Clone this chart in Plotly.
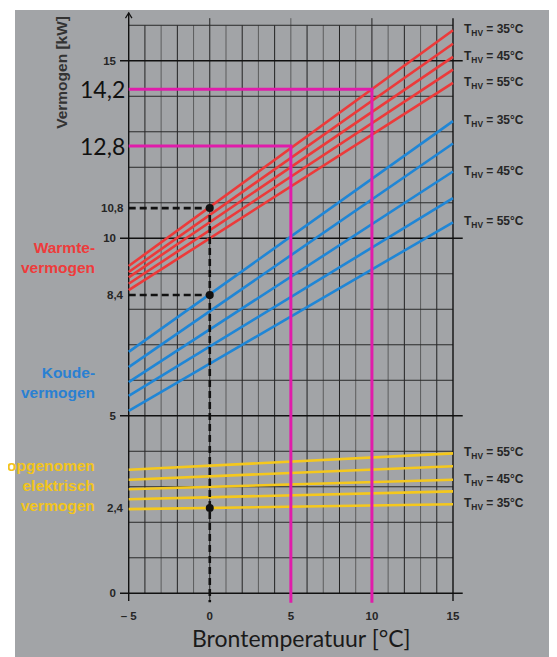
import plotly.graph_objects as go

# ---------------- data ----------------
x_ends = [-5, 15]                                   # Brontemperatuur [°C]
heat_left = [9.22, 9.05, 8.90, 8.72, 8.54]          # Warmtevermogen at -5 °C
heat_right = [15.86, 15.48, 15.11, 14.75, 14.38]    # Warmtevermogen at 15 °C
cold_left = [6.80, 6.37, 5.95, 5.56, 5.14]          # Koudevermogen at -5 °C
cold_right = [13.30, 12.67, 11.88, 11.13, 10.45]    # Koudevermogen at 15 °C
elec_left = [3.48, 3.20, 2.93, 2.65, 2.37]          # Opgenomen elektrisch vermogen at -5 °C
elec_right = [3.94, 3.58, 3.20, 2.87, 2.51]         # at 15 °C

heat_labels = ["35", "", "45", "", "55"]
cold_labels = ["35", "", "45", "", "55"]
elec_labels = ["55", "", "45", "", "35"]

x_ticks = [-5, 0, 5, 10, 15]
x_ticktext = ["– 5", "0", "5", "10", "15"]
y_ticks = [0, 5, 10, 15]
y_ticktext = ["0", "5", "10", "15"]

# reading example at 0 °C (black dashed)
read0_x = 0
read0_vals = [10.85, 8.4, 2.4]
read0_text = ["10,8", "8,4", "2,4"]

# reading examples at 5 and 10 °C (magenta)
readm_x = [5, 10]
readm_vals = [12.6, 14.2]
readm_text = ["12,8", "14,2"]

RED = "#ec3a3a"
BLUE = "#1f86d6"
YELLOW = "#f5c81c"
MAGENTA = "#e01caa"
BG = "#a2a4a7"
DARK = "#262626"

# page offset (browser body margin)
OFF = 8
W, H = 557 - OFF, 657 - OFF

X0, X1 = -5.537, 15.617
Y0, Y1 = -0.33, 16.43
# reference-pixel plot box: x 120..463, y 10..605
ML = 120 - OFF
MR = W - (463 - OFF)
MT = 10 - OFF
MB = H - (605 - OFF)
PW, PH = W - ML - MR, H - MT - MB

def px_x(p):   # reference pixel x -> paper
    return (p - OFF - ML) / PW

def px_y(p):   # reference pixel y -> paper
    return (H - MB - (p - OFF)) / PH

fig = go.Figure()

# ---------------- grid (shapes) ----------------
shapes = []
for gx in range(-4, 15):
    major = gx % 2 == 0
    top = 16.2 if gx in (0, 5, 10) else 16
    bot = -0.22 if gx in (0, 5, 10) else 0
    shapes.append(dict(type="line", xref="x", yref="y", x0=gx, x1=gx, y0=bot, y1=top,
                       line=dict(color="#222222" if major else "#4a4a4a",
                                 width=1 if major else 0.8), layer="below"))
for gy in range(1, 17):
    if gy in (5, 10, 15):
        continue
    shapes.append(dict(type="line", xref="x", yref="y", x0=-5, x1=15, y0=gy, y1=gy,
                       line=dict(color="#2a2a2a", width=1), layer="below"))
for gy in (0, 5, 10, 15):
    shapes.append(dict(type="line", xref="x", yref="y", x0=-5.55, x1=15.6, y0=gy, y1=gy,
                       line=dict(color="#111111", width=1.4), layer="below"))
# y axis with arrow, right border
shapes.append(dict(type="line", xref="x", yref="y", x0=-5, x1=-5, y0=-0.22, y1=16.35,
                   line=dict(color="#111111", width=1.4), layer="below"))
shapes.append(dict(type="path", xref="x", yref="y",
                   path="M -5.2,16.2 L -5,16.35 L -4.8,16.2",
                   line=dict(color="#111111", width=1.2), layer="below"))
shapes.append(dict(type="line", xref="x", yref="y", x0=15, x1=15, y0=-0.22, y1=16.2,
                   line=dict(color="#111111", width=1.4), layer="below"))

# white strips outside the gray picture
shapes.append(dict(type="rect", xref="paper", yref="paper", x0=px_x(OFF), x1=px_x(15),
                   y0=px_y(657), y1=px_y(OFF), fillcolor="white", line=dict(width=0),
                   layer="below"))
shapes.append(dict(type="rect", xref="paper", yref="paper", x0=px_x(OFF), x1=px_x(557),
                   y0=px_y(10), y1=px_y(OFF), fillcolor="white", line=dict(width=0),
                   layer="below"))

# ---------------- curves ----------------
def add_group(lefts, rights, color, name):
    for a, b in zip(lefts, rights):
        fig.add_trace(go.Scatter(x=x_ends, y=[a, b], mode="lines",
                                 line=dict(color=color, width=2.6),
                                 name=name, showlegend=False, hoverinfo="skip"))

add_group(heat_left, heat_right, RED, "Warmtevermogen")
add_group(cold_left, cold_right, BLUE, "Koudevermogen")
add_group(elec_left, elec_right, YELLOW, "Opgenomen elektrisch vermogen")

# magenta reading lines
for xv, yv in zip(readm_x, readm_vals):
    fig.add_trace(go.Scatter(x=[-5, xv, xv], y=[yv, yv, -0.27], mode="lines",
                             line=dict(color=MAGENTA, width=3), showlegend=False,
                             hoverinfo="skip"))

# black dashed reading lines
fig.add_trace(go.Scatter(x=[-5, read0_x, read0_x], y=[read0_vals[0], read0_vals[0], -0.25],
                         mode="lines", line=dict(color="#111111", width=2.6, dash="7px,4px"),
                         showlegend=False, hoverinfo="skip"))
fig.add_trace(go.Scatter(x=[-5, read0_x], y=[read0_vals[1], read0_vals[1]],
                         mode="lines", line=dict(color="#111111", width=2.6, dash="7px,4px"),
                         showlegend=False, hoverinfo="skip"))
fig.add_trace(go.Scatter(x=[read0_x] * len(read0_vals), y=read0_vals, mode="markers",
                         marker=dict(color="#111111", size=8), showlegend=False,
                         hoverinfo="skip"))

# ---------------- annotations ----------------
ann = []
SMALL = dict(family="Liberation Sans, Arial", size=11.5, color=DARK, weight="bold")
THVF = dict(family="Liberation Sans, Arial", size=12, color=DARK, weight="bold")

def thv(lbls, rights):
    for l, r in zip(lbls, rights):
        if l:
            ann.append(dict(x=15.55, y=r, xref="x", yref="y", xanchor="left",
                            yanchor="middle", showarrow=False,
                            text=f"T<sub>HV</sub> = {l}°C", font=THVF))

thv(heat_labels, heat_right)
thv(cold_labels, cold_right)
thv(elec_labels, elec_right)

for v, t in zip(read0_vals, read0_text):
    ann.append(dict(x=-5, y=v, xref="x", yref="y", xanchor="right", yanchor="middle",
                    xshift=-3, showarrow=False, text=t, font=SMALL))
for v, t in zip(readm_vals, readm_text):
    ann.append(dict(x=-5, y=v, xref="x", yref="y", xanchor="right", yanchor="middle",
                    xshift=-2, showarrow=False, text=t,
                    font=dict(family="Lato, Open Sans, sans-serif", size=23, color="#111111")))

LBL = dict(family="Liberation Sans, Arial", size=15.5, weight="bold")
ann.append(dict(x=px_x(97), y=9.47, xref="paper", yref="y", xanchor="right", yanchor="middle",
                align="right", showarrow=False, text="Warmte-<br>vermogen",
                font=dict(LBL, color="#ee3b3b")))
ann.append(dict(x=px_x(97), y=5.94, xref="paper", yref="y", xanchor="right", yanchor="middle",
                align="right", showarrow=False, text="Koude-<br>vermogen",
                font=dict(LBL, color="#2a80d2")))
ann.append(dict(x=px_x(97), y=3.05, xref="paper", yref="y", xanchor="right", yanchor="middle",
                align="right", showarrow=False, text="opgenomen<br>elektrisch<br>vermogen",
                font=dict(LBL, color="#f2c41c")))

ann.append(dict(x=px_x(62), y=14.66, xref="paper", yref="y", xanchor="center",
                yanchor="middle", textangle=-90, showarrow=False, text="Vermogen [kW]",
                font=dict(family="Liberation Sans, Arial", size=15.5, color="#333333",
                          weight="bold")))
ann.append(dict(x=px_x(301), y=px_y(638), xref="paper", yref="paper",
                xanchor="center", yanchor="middle", showarrow=False,
                text="Brontemperatuur [°C]",
                font=dict(family="Lato, Open Sans, sans-serif", size=23, color="#1a1a1a")))

fig.update_layout(
    width=W, height=H,
    margin=dict(l=ML, r=MR, t=MT, b=MB),
    paper_bgcolor=BG, plot_bgcolor=BG,
    shapes=shapes, annotations=ann,
    xaxis=dict(range=[X0, X1], showgrid=False, zeroline=False, showline=False,
               tickvals=x_ticks, ticktext=x_ticktext, ticks="", ticklabelstandoff=2,
               tickfont=dict(family="Liberation Sans, Arial", size=11.5, color=DARK,
                             weight="bold"), fixedrange=True),
    yaxis=dict(range=[Y0, Y1], showgrid=False, zeroline=False, showline=False,
               tickvals=y_ticks, ticktext=y_ticktext, ticks="", ticklabelstandoff=3,
               tickfont=dict(family="Liberation Sans, Arial", size=11.5, color=DARK,
                             weight="bold"), fixedrange=True),
    showlegend=False,
)

fig.write_html("out.html")
